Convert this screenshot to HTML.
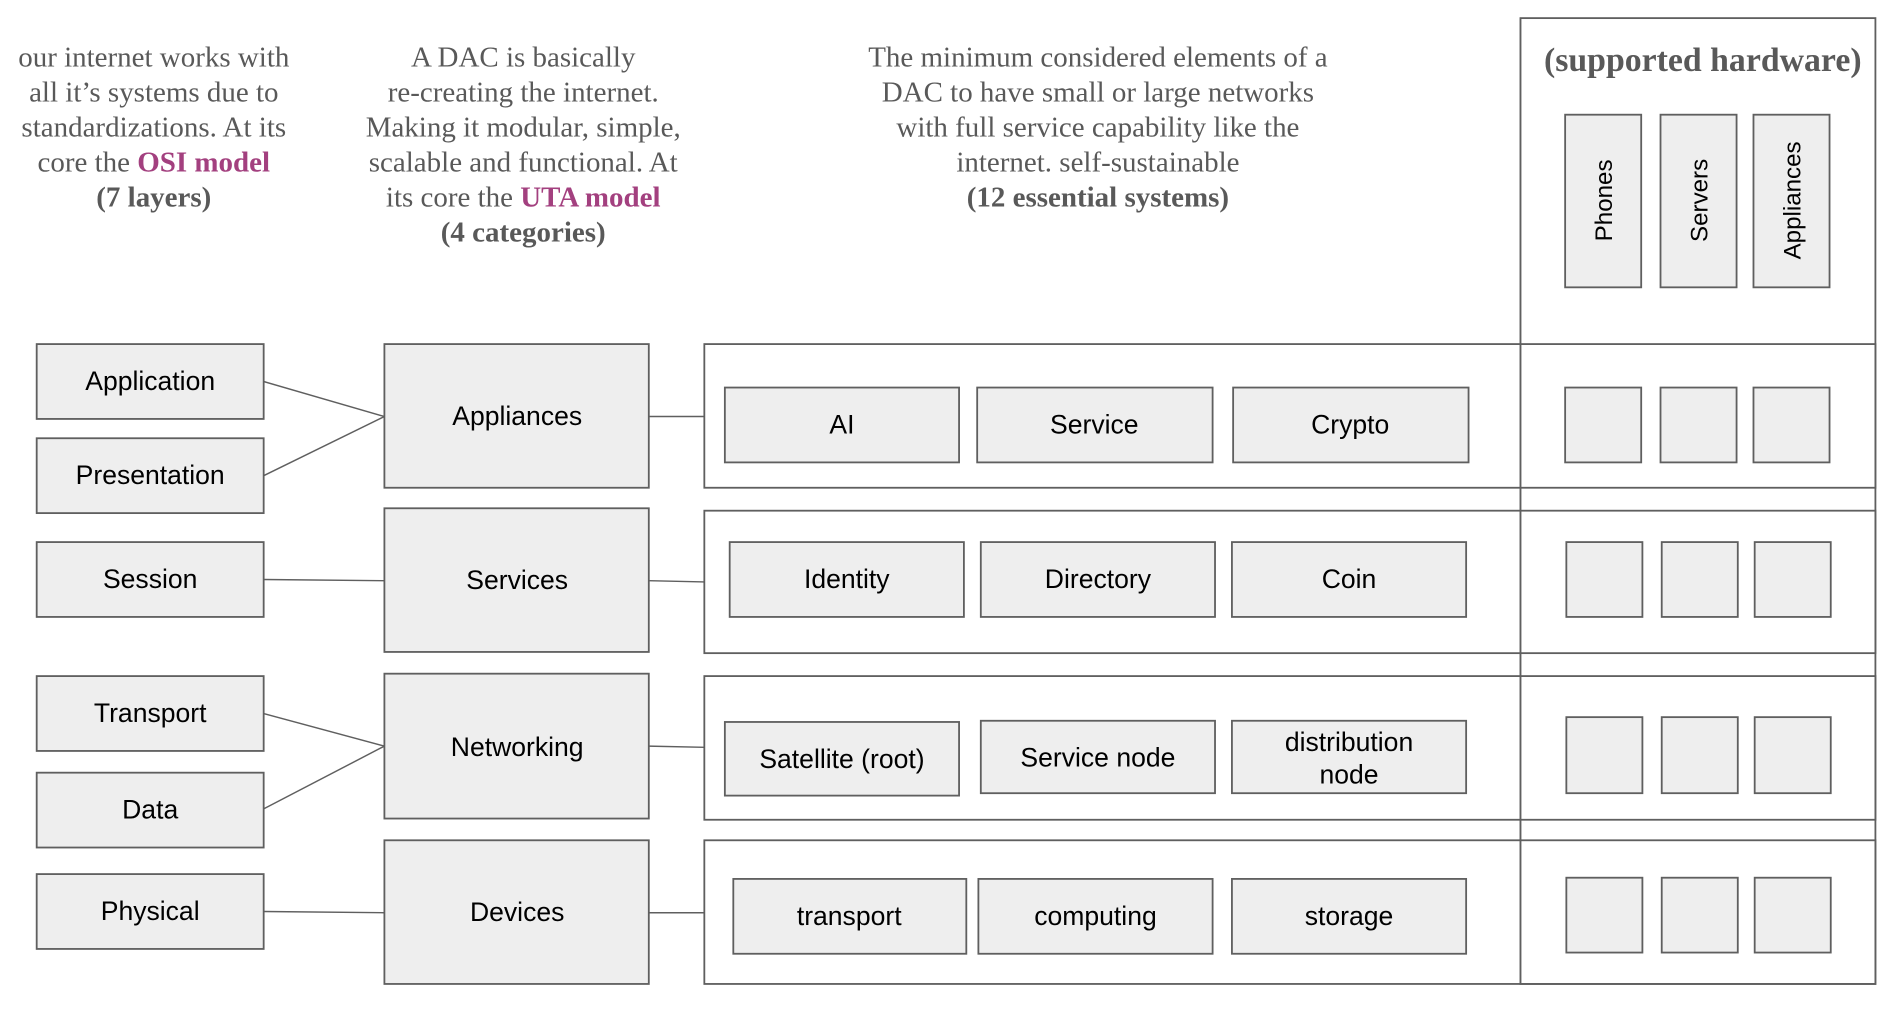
<!DOCTYPE html>
<html><head><meta charset="utf-8"><style>html,body{margin:0;padding:0;background:#fff;}svg{display:block}</style></head>
<body>
<svg width="1894" height="1025" viewBox="0 0 1568 849" xmlns="http://www.w3.org/2000/svg">
<style>
.b{fill:#eeeeee;stroke:#5f5f5f;stroke-width:1.5}
.c{fill:none;stroke:#5f5f5f;stroke-width:1.5}
.l{stroke:#5f5f5f;stroke-width:1.2}
.s{font-family:"Liberation Serif",serif;font-size:24px;fill:#595959;text-anchor:middle}
.t{font-family:"Liberation Sans",sans-serif;font-size:22px;fill:#000;text-anchor:middle}
.v{font-family:"Liberation Sans",sans-serif;font-size:20px;fill:#000;text-anchor:middle}
.m{fill:#a3407f;font-weight:bold}
.k{font-weight:bold}
</style>
<g class="s">
<text x="127" y="55">our internet works with</text>
<text x="127" y="84">all it’s systems due to</text>
<text x="127" y="113">standardizations. At its</text>
<text x="127" y="142">core the <tspan class="m">OSI model</tspan></text>
<text x="127" y="171" class="k">(7 layers)</text>
<text x="433" y="55">A DAC is basically</text>
<text x="433" y="84">re-creating the internet.</text>
<text x="433" y="113">Making it modular, simple,</text>
<text x="433" y="142">scalable and functional. At</text>
<text x="433" y="171">its core the <tspan class="m">UTA model</tspan></text>
<text x="433" y="200" class="k">(4 categories)</text>
<text x="909" y="55">The minimum considered elements of a</text>
<text x="909" y="84">DAC to have small or large networks</text>
<text x="909" y="113">with full service capability like the</text>
<text x="909" y="142">internet. self-sustainable</text>
<text x="909" y="171" class="k">(12 essential systems)</text>
<text x="1410" y="59" class="k" style="font-size:28px">(supported hardware)</text>
</g>
<rect class="c" x="1259" y="15" width="294" height="800"/>
<rect class="b" x="1296" y="95" width="63" height="143"/>
<rect class="b" x="1375" y="95" width="63" height="143"/>
<rect class="b" x="1452" y="95" width="63" height="143"/>
<text class="v" transform="translate(1335,166) rotate(-90)">Phones</text>
<text class="v" transform="translate(1414,166) rotate(-90)">Servers</text>
<text class="v" transform="translate(1491,166) rotate(-90)">Appliances</text>
<rect class="c" x="583" y="285" width="970" height="119"/>
<rect class="c" x="583" y="423" width="970" height="118"/>
<rect class="c" x="583" y="560" width="970" height="119"/>
<rect class="c" x="583" y="696" width="970" height="119"/>
<line class="l" x1="1259" y1="15" x2="1259" y2="815"/>
<line class="l" x1="218" y1="316" x2="318" y2="345"/>
<line class="l" x1="218" y1="394" x2="318" y2="345"/>
<line class="l" x1="218" y1="480" x2="318" y2="481"/>
<line class="l" x1="218" y1="591" x2="318" y2="618"/>
<line class="l" x1="218" y1="670" x2="318" y2="618"/>
<line class="l" x1="218" y1="755" x2="318" y2="756"/>
<line class="l" x1="537" y1="345" x2="583" y2="345"/>
<line class="l" x1="537" y1="481" x2="583" y2="482"/>
<line class="l" x1="537" y1="618" x2="583" y2="619"/>
<line class="l" x1="537" y1="756" x2="583" y2="756"/>
<rect class="b" x="30" y="285" width="188" height="62"/><text class="t" x="124" y="323">Application</text>
<rect class="b" x="30" y="363" width="188" height="62"/><text class="t" x="124" y="401">Presentation</text>
<rect class="b" x="30" y="449" width="188" height="62"/><text class="t" x="124" y="487">Session</text>
<rect class="b" x="30" y="560" width="188" height="62"/><text class="t" x="124" y="598">Transport</text>
<rect class="b" x="30" y="640" width="188" height="62"/><text class="t" x="124" y="678">Data</text>
<rect class="b" x="30" y="724" width="188" height="62"/><text class="t" x="124" y="762">Physical</text>
<rect class="b" x="318" y="285" width="219" height="119"/><text class="t" x="428" y="352">Appliances</text>
<rect class="b" x="318" y="421" width="219" height="119"/><text class="t" x="428" y="488">Services</text>
<rect class="b" x="318" y="558" width="219" height="120"/><text class="t" x="428" y="626">Networking</text>
<rect class="b" x="318" y="696" width="219" height="119"/><text class="t" x="428" y="763">Devices</text>
<rect class="b" x="600" y="321" width="194" height="62"/><text class="t" x="697" y="359">AI</text>
<rect class="b" x="809" y="321" width="195" height="62"/><text class="t" x="906" y="359">Service</text>
<rect class="b" x="1021" y="321" width="195" height="62"/><text class="t" x="1118" y="359">Crypto</text>
<rect class="b" x="604" y="449" width="194" height="62"/><text class="t" x="701" y="487">Identity</text>
<rect class="b" x="812" y="449" width="194" height="62"/><text class="t" x="909" y="487">Directory</text>
<rect class="b" x="1020" y="449" width="194" height="62"/><text class="t" x="1117" y="487">Coin</text>
<rect class="b" x="600" y="598" width="194" height="61"/><text class="t" x="697" y="636">Satellite (root)</text>
<rect class="b" x="812" y="597" width="194" height="60"/><text class="t" x="909" y="635">Service node</text>
<rect class="b" x="1020" y="597" width="194" height="60"/><text class="t" x="1117" y="622">distribution</text><text class="t" x="1117" y="649">node</text>
<rect class="b" x="607" y="728" width="193" height="62"/><text class="t" x="703" y="766">transport</text>
<rect class="b" x="810" y="728" width="194" height="62"/><text class="t" x="907" y="766">computing</text>
<rect class="b" x="1020" y="728" width="194" height="62"/><text class="t" x="1117" y="766">storage</text>
<rect class="b" x="1296" y="321" width="63" height="62"/><rect class="b" x="1375" y="321" width="63" height="62"/><rect class="b" x="1452" y="321" width="63" height="62"/>
<rect class="b" x="1297" y="449" width="63" height="62"/><rect class="b" x="1376" y="449" width="63" height="62"/><rect class="b" x="1453" y="449" width="63" height="62"/>
<rect class="b" x="1297" y="594" width="63" height="63"/><rect class="b" x="1376" y="594" width="63" height="63"/><rect class="b" x="1453" y="594" width="63" height="63"/>
<rect class="b" x="1297" y="727" width="63" height="62"/><rect class="b" x="1376" y="727" width="63" height="62"/><rect class="b" x="1453" y="727" width="63" height="62"/>
</svg>
</body></html>
